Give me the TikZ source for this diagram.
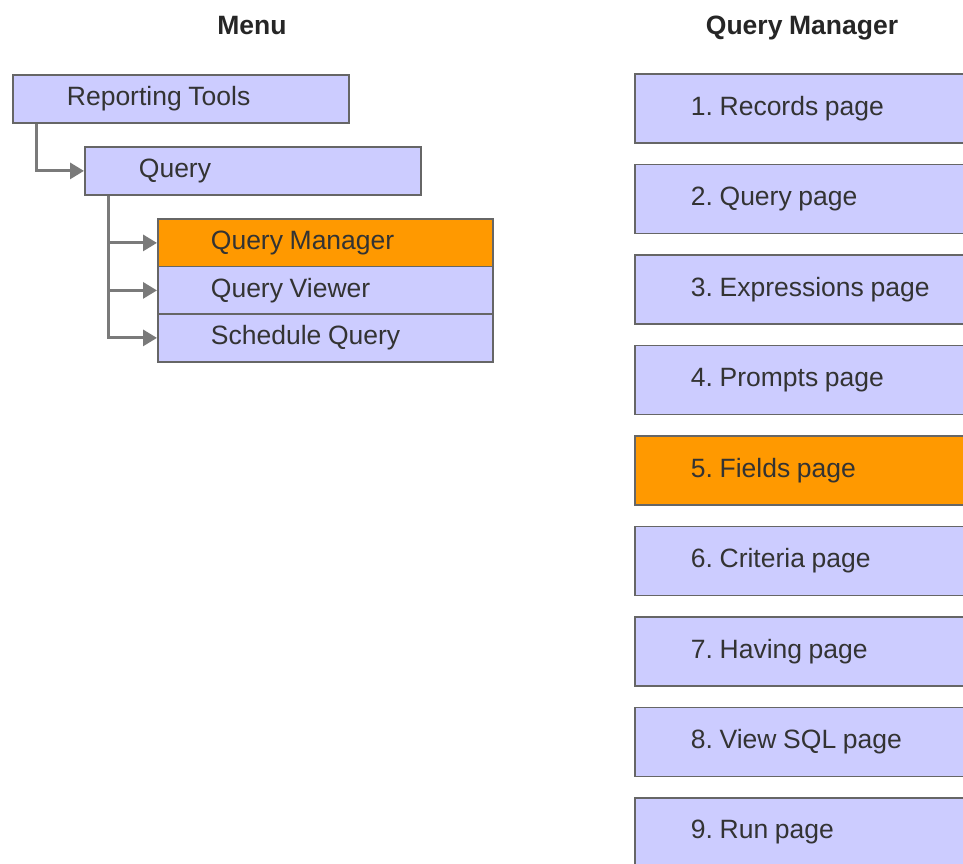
\documentclass[tikz,border=0pt]{standalone}
\usepackage{fontspec}
\setmainfont[WordSpace=0.9]{Liberation Sans}
\usetikzlibrary{arrows.meta}
\definecolor{lav}{HTML}{CCCCFF}
\definecolor{hilite}{HTML}{FF9900}
\definecolor{edge}{HTML}{666666}
\definecolor{ink}{HTML}{333333}
\definecolor{wire}{HTML}{7A7A7A}
\tikzset{
  % left-set text in a line of fixed width
  linewidth/.style={execute at begin node={\hbox to #1\bgroup},
                    execute at end node={\hfil\egroup}},
  menubox/.style={draw=edge, line width=1.8pt, fill=lav, rectangle, anchor=north west,
    minimum height=48pt, text=ink, font=\fontsize{26.5}{31}\selectfont,
    inner ysep=0pt},
  pagebox/.style={menubox, minimum height=69pt, inner xsep=56pt, linewidth=248pt},
  active/.style={fill=hilite},
  conn/.style={draw=wire, line width=3pt, -{Triangle[length=14pt,width=16pt]}},
  heading/.style={font=\bfseries\fontsize{26.5}{31}\selectfont, text=black!85, anchor=base}
}
\begin{document}
\frenchspacing
\begin{tikzpicture}[x=1pt,y=-1pt]
\useasboundingbox (0,0) rectangle (963,863);
\clip (0,0) rectangle (963,863);
\fill[white] (0,0) rectangle (963,863);

% column headings
\node[heading] (hmenu) at (252,34) {Menu};
\node[heading] (hqm) at (802,34) {Query Manager};

% menu path
\node[menubox, inner xsep=54pt, linewidth=228pt] (rt) at (12,74) {Reporting Tools};
\node[menubox, inner xsep=54pt, linewidth=228pt] (q) at (84,146) {Query};
\node[menubox, active, inner xsep=53pt, linewidth=229pt] (qm) at (157,218) {Query Manager};
\node[menubox, inner xsep=53pt, linewidth=229pt] (qv) at (157,265.5) {Query Viewer};
\node[menubox, inner xsep=53pt, linewidth=229pt] (sq) at (157,313) {Schedule Query};

\draw[conn] ([xshift=24pt]rt.south west) |- (q.west);
\draw[conn] ([xshift=24pt]q.south west) |- (qm.west);
\draw[conn] ([xshift=24pt]q.south west) |- (qv.west);
\draw[conn] ([xshift=24pt]q.south west) |- (sq.west);

% Query Manager pages
\node[pagebox] (p1) at (634,73) {1. Records page};
\node[pagebox] (p2) at (634,163.5) {2. Query page};
\node[pagebox] (p3) at (634,254) {3. Expressions page};
\node[pagebox] (p4) at (634,344.5) {4. Prompts page};
\node[pagebox, active] (p5) at (634,435) {5. Fields page};
\node[pagebox] (p6) at (634,525.5) {6. Criteria page};
\node[pagebox] (p7) at (634,616) {7. Having page};
\node[pagebox] (p8) at (634,706.5) {8. View SQL page};
\node[pagebox] (p9) at (634,797) {9. Run page};
\end{tikzpicture}
\end{document}
